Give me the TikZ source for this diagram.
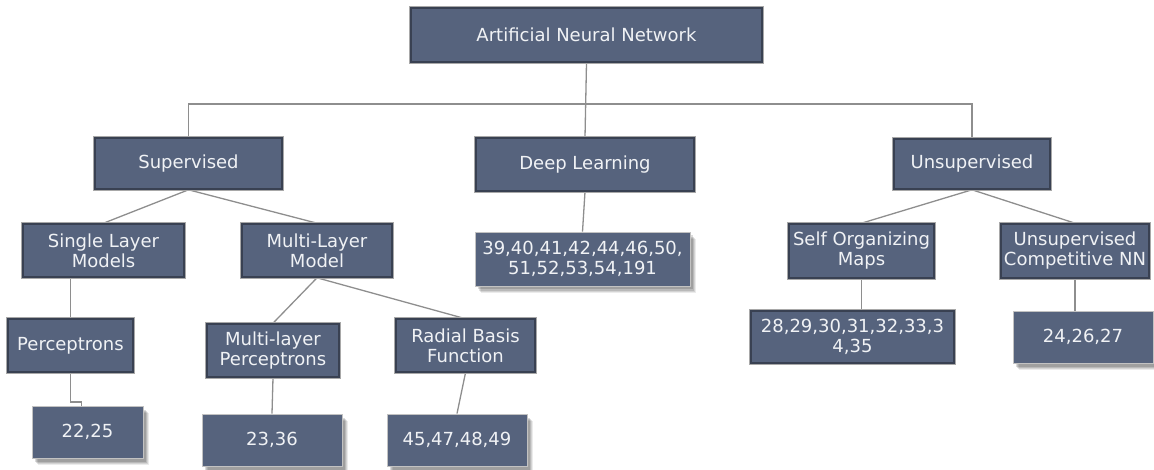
\documentclass[tikz,border=0pt]{standalone}
\usepackage{fontspec}
\setmainfont{DejaVu Sans}
\usetikzlibrary{shadows}
\definecolor{boxfill}{HTML}{56637D}
\definecolor{boxedge}{HTML}{394152}
\definecolor{boxtext}{HTML}{F0F2F5}
\definecolor{rim}{HTML}{A8A8A8}
\definecolor{wire}{HTML}{8E8E8E}
\pgfdeclarelayer{background}
\pgfsetlayers{background,main}
\tikzset{
  base/.style={rectangle, fill=boxfill, text=boxtext, align=center, inner sep=0pt,
    font=\fontsize{18}{20}\selectfont},
  catbox/.style={base, preaction={draw=rim, line width=3.2pt}, draw=boxedge, line width=1.6pt},
  % soft shadow built from a few faint offset layers
  leafbox/.style={base, draw=rim!70, line width=0.8pt,
    drop shadow={shadow xshift=6pt, shadow yshift=-7pt, opacity=0.08, fill=black},
    drop shadow={shadow xshift=5pt, shadow yshift=-6pt, opacity=0.10, fill=black},
    drop shadow={shadow xshift=4pt, shadow yshift=-5pt, opacity=0.12, fill=black},
    drop shadow={shadow xshift=3pt, shadow yshift=-3.5pt, opacity=0.14, fill=black}},
  wire/.style={draw=wire, line width=1.3pt},
}
\begin{document}
\begin{tikzpicture}[x=1pt, y=-1pt]
\useasboundingbox (0,0) rectangle (1154,470);

% top level
\node[catbox, minimum width=351pt, minimum height=54pt] (ann) at (586.5,35) {Artificial Neural Network};

% families
\node[catbox, minimum width=187pt, minimum height=51pt] (sup) at (188.5,163.5) {Supervised};
\node[catbox, minimum width=218pt, minimum height=53pt] (dl)  at (585,164.5) {Deep Learning};
\node[catbox, minimum width=156pt, minimum height=50pt] (uns) at (972,164) {Unsupervised};

% model groups
\node[catbox, minimum width=161pt, minimum height=53pt] (slm)  at (103.5,250.5) {Single Layer\\Models};
\node[catbox, minimum width=150pt, minimum height=53pt] (mlm)  at (317,250.5) {Multi-Layer\\Model};
\node[catbox, minimum width=145pt, minimum height=54pt] (som)  at (861.5,251) {Self Organizing\\Maps};
\node[catbox, minimum width=148pt, minimum height=54pt] (ucnn) at (1075,251) {Unsupervised\\Competitive NN};

% model types
\node[catbox, minimum width=125pt, minimum height=53pt] (perc) at (70.5,345.5) {Perceptrons};
\node[catbox, minimum width=132pt, minimum height=53pt] (mlp)  at (273,350.5) {Multi-layer\\Perceptrons};
\node[catbox, minimum width=139pt, minimum height=53pt] (rbf)  at (465.5,345.5) {Radial Basis\\Function};

% reference lists
\node[leafbox, minimum width=215pt, minimum height=54pt] (dlref)   at (582.5,259) {39,40,41,42,44,46,50,\\51,52,53,54,191};
\node[catbox,  minimum width=203pt, minimum height=52pt] (somref)  at (852.5,337) {28,29,30,31,32,33,3\\4,35};
\node[leafbox, minimum width=140pt, minimum height=52pt] (ucnnref) at (1083,337) {24,26,27};
\node[leafbox, minimum width=111pt, minimum height=52pt] (percref) at (87.5,432) {22,25};
\node[leafbox, minimum width=140pt, minimum height=52pt] (mlpref)  at (272,440) {23,36};
\node[leafbox, minimum width=140pt, minimum height=52pt] (rbfref)  at (457,440) {45,47,48,49};

\coordinate (bar) at (586,104);

\begin{pgfonlayer}{background}
  % trunk and branch bar
  \draw[wire] (ann.south) -- (dl.north);
  \draw[wire] (sup.north) |- (bar) -| (uns.north);
  % supervised branch
  \draw[wire] (sup.south) -- (slm.north);
  \draw[wire] (sup.south) -- (mlm.north);
  \draw[wire] (slm.south -| perc.north) -- (perc.north);
  \draw[wire] (perc.south) -- (perc.south |- 0,402) -| ([xshift=-6pt]percref.north);
  \draw[wire] (mlm.south) -- (mlp.north);
  \draw[wire] (mlm.south) -- ([xshift=-2pt]rbf.north);
  \draw[wire] (mlp.south) -- (mlpref.north);
  \draw[wire] (rbf.south) -- (rbfref.north);
  % deep learning branch
  \draw[wire] (dl.south) -- (dlref.north);
  % unsupervised branch
  \draw[wire] (uns.south) -- (som.north);
  \draw[wire] (uns.south) -- (ucnn.north);
  \draw[wire] (som.south) -- (som.south |- somref.north);
  \draw[wire] (ucnn.south) -- (ucnn.south |- ucnnref.north);
\end{pgfonlayer}
\end{tikzpicture}
\end{document}
